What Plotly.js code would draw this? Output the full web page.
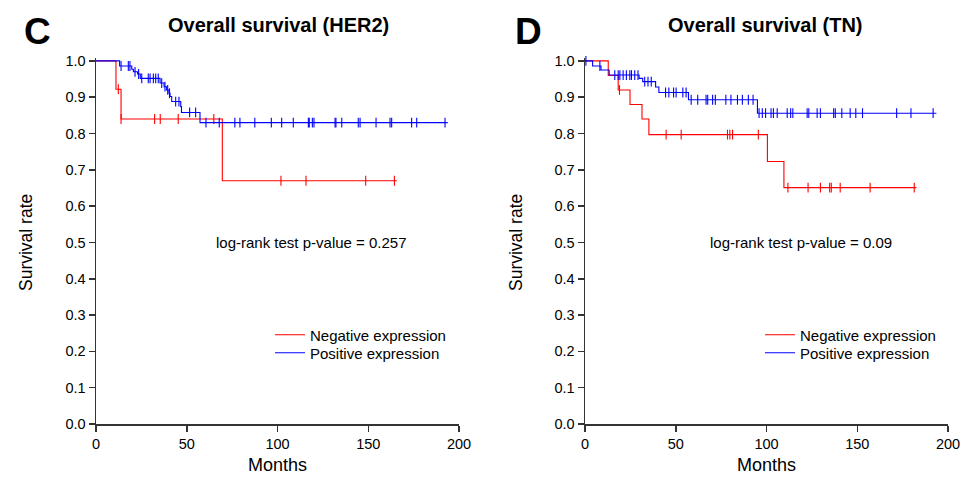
<!DOCTYPE html>
<html>
<head>
<meta charset="utf-8">
<script src="https://cdn.plot.ly/plotly-3.0.1.min.js"></script>
<style>html,body{margin:0;padding:0;background:#fff;}#chart{width:967px;height:477px;}</style>
</head>
<body>
<div id="chart"></div>
<script>
// ---------- Data ----------
const panelTitles = ["Overall survival (HER2)", "Overall survival (TN)"];
const panelLetters = ["C", "D"];
const seriesNames = ["Negative expression", "Positive expression"];
const pValueTexts = ["log-rank test p-value = 0.257", "log-rank test p-value = 0.09"];
const xTicks = [0, 50, 100, 150, 200];
const yTicks = [0, 0.1, 0.2, 0.3, 0.4, 0.5, 0.6, 0.7, 0.8, 0.9, 1.0];

// HER2 - negative expression
const her2NegTimes = [11, 13.8, 69.6];
const her2NegSurv = [0.922, 0.84, 0.67];
const her2NegLast = 165.7;
const her2NegCensor = [12.3, 13.8, 32.3, 35.4, 45.3, 64.9, 101.9, 115.7, 148.6, 164.4];

// HER2 - positive expression
const her2PosTimes = [13, 19.7, 20.6, 22.9, 24.4, 35.3, 37.5, 38.9, 40.2, 40.8, 41.7, 46.7, 47.1, 57.3];
const her2PosSurv = [0.986, 0.977, 0.970, 0.964, 0.952, 0.939, 0.929, 0.920, 0.911, 0.902, 0.888, 0.874, 0.858, 0.830];
const her2PosLast = 193.8;
const her2PosCensor = [13.8, 17.8, 18.7, 21.5, 23.5, 25.2, 28.8, 29.8, 31.6, 32.9, 34.3, 36.2, 38, 39.5, 40.5, 43.9, 45.7,
  51.6, 54.9, 60.6, 67.9, 76.5, 79.3, 87.5, 96.6, 102.3, 108.7, 117, 117.5, 119.2, 120.1, 131.7, 132.2, 135.4,
  144.5, 145.5, 154.3, 162, 162.9, 173.9, 176.7, 192.3];

// TN - negative expression
const tnNegTimes = [12.8, 18.3, 24.8, 31.4, 35.2, 100.5, 109.6];
const tnNegSurv = [0.96, 0.92, 0.88, 0.84, 0.797, 0.723, 0.651];
const tnNegLast = 182.6;
const tnNegCensor = [19, 44.7, 53, 78.5, 79.8, 81.3, 95.5, 111.8, 122.9, 129.7, 134.8, 135.7, 140.6, 157.1, 181.4];

// TN - positive expression
const tnPosTimes = [4.2, 8.8, 13.3, 29.8, 31.8, 38.9, 40.7, 57, 95];
const tnPosSurv = [0.986, 0.975, 0.961, 0.952, 0.943, 0.928, 0.913, 0.893, 0.856];
const tnPosLast = 193.6;
const tnPosCensor = [0.5, 8.2, 16.4, 18.3, 19.2, 21.0, 22.8, 24.7, 25.6, 27.4, 29.2, 32.9, 34.7, 36.5, 44.4, 46.2, 48.8,
  50.2, 53.9, 55.7, 58.5, 62.1, 66.7, 67.6, 70.3, 71.8, 77.6, 80.4, 84, 86.7, 90, 92.6, 95.9, 97.7, 99.5, 102.5,
  103.8, 105.9, 111.4, 113.3, 114.5, 122.4, 123.3, 127.9, 129.7, 137, 137.9, 141.5, 146.1, 149.2, 152.9, 171.7,
  179.6, 191.8];

// ---------- Helpers ----------
function stepXY(times, surv, last) {
  return { x: [0].concat(times, [last]), y: [1].concat(surv, [surv[surv.length - 1]]) };
}
function survAt(times, surv, t) {
  let s = 1;
  for (let i = 0; i < times.length; i++) if (t >= times[i]) s = surv[i];
  return s;
}
const RED = "#ff0000", BLUE = "#0000ff";
function curveTraces(times, surv, last, censor, name, color, xa, ya, legend) {
  const st = stepXY(times, surv, last);
  return [
    { x: st.x, y: st.y, type: "scatter", mode: "lines", line: { shape: "hv", color: color, width: 1.1 },
      name: name, xaxis: xa, yaxis: ya, legend: legend, hoverinfo: "skip" },
    { x: censor, y: censor.map(t => survAt(times, surv, t)), type: "scatter", mode: "markers",
      marker: { symbol: "line-ns", size: 7, line: { color: color, width: 1.1 } },
      showlegend: false, xaxis: xa, yaxis: ya, hoverinfo: "skip", cliponaxis: false }
  ];
}

const data = []
  .concat(curveTraces(her2NegTimes, her2NegSurv, her2NegLast, her2NegCensor, seriesNames[0], RED, "x", "y", "legend"))
  .concat(curveTraces(her2PosTimes, her2PosSurv, her2PosLast, her2PosCensor, seriesNames[1], BLUE, "x", "y", "legend2"))
  .concat(curveTraces(tnNegTimes, tnNegSurv, tnNegLast, tnNegCensor, seriesNames[0], RED, "x2", "y2", "legend3"))
  .concat(curveTraces(tnPosTimes, tnPosSurv, tnPosLast, tnPosCensor, seriesNames[1], BLUE, "x2", "y2", "legend4"));

// ---------- Layout ----------
const W = 967, H = 477, ML = 96, MR = 19, MT = 58, MB = 53;
const PW = W - ML - MR, PH = H - MT - MB;
const px2x = p => (p - ML) / PW;
const py2y = p => (H - MB - p) / PH;
const FONT = "Liberation Sans, Arial, sans-serif";

function xaxisDef(domain, anchor) {
  return { domain: domain, anchor: anchor, range: [0, 200], tickvals: xTicks, ticktext: xTicks.map(String),
    showgrid: false, zeroline: false, showline: true, linecolor: "#333", linewidth: 1.5,
    ticks: "outside", ticklen: 6, tickwidth: 1.5, tickcolor: "#333",
    tickfont: { family: FONT, size: 14.5, color: "#000" }, fixedrange: true };
}
function yaxisDef(anchor) {
  return { domain: [0, 1], anchor: anchor, range: [0, 1.008], tickvals: yTicks, ticktext: yTicks.map(v => v.toFixed(1)),
    showgrid: false, zeroline: false, showline: true, linecolor: "#333", linewidth: 1.5,
    ticks: "outside", ticklen: 6, tickwidth: 1.5, tickcolor: "#333",
    tickfont: { family: FONT, size: 14.5, color: "#000" }, fixedrange: true };
}

const leftCenter = (96 + 459) / 2, rightCenter = (585 + 948) / 2;
const annotations = [
  { text: panelTitles[0], xref: "paper", yref: "paper", x: px2x(278), y: py2y(25), showarrow: false,
    font: { family: FONT, size: 20, color: "#000", weight: "bold" }, xanchor: "center", yanchor: "middle" },
  { text: panelTitles[1], xref: "paper", yref: "paper", x: px2x(765), y: py2y(25), showarrow: false,
    font: { family: FONT, size: 20, color: "#000", weight: "bold" }, xanchor: "center", yanchor: "middle" },
  { text: panelLetters[0], xref: "paper", yref: "paper", x: px2x(37), y: py2y(31), showarrow: false,
    font: { family: FONT, size: 37, color: "#000", weight: "bold" }, xanchor: "center", yanchor: "middle" },
  { text: panelLetters[1], xref: "paper", yref: "paper", x: px2x(528), y: py2y(31), showarrow: false,
    font: { family: FONT, size: 37, color: "#000", weight: "bold" }, xanchor: "center", yanchor: "middle" },
  { text: "Survival rate", xref: "paper", yref: "paper", x: px2x(26), y: py2y(243), textangle: -90, showarrow: false,
    font: { family: FONT, size: 17.5, color: "#000" }, xanchor: "center", yanchor: "middle" },
  { text: "Survival rate", xref: "paper", yref: "paper", x: px2x(516), y: py2y(243), textangle: -90, showarrow: false,
    font: { family: FONT, size: 17.5, color: "#000" }, xanchor: "center", yanchor: "middle" },
  { text: "Months", xref: "paper", yref: "paper", x: px2x(leftCenter), y: py2y(465), showarrow: false,
    font: { family: FONT, size: 18, color: "#000" }, xanchor: "center", yanchor: "middle" },
  { text: "Months", xref: "paper", yref: "paper", x: px2x(rightCenter), y: py2y(465), showarrow: false,
    font: { family: FONT, size: 18, color: "#000" }, xanchor: "center", yanchor: "middle" },
  { text: pValueTexts[0], xref: "x", yref: "y", x: 65.2, y: 0.5, showarrow: false,
    font: { family: FONT, size: 15, color: "#000" }, xanchor: "left", yanchor: "middle" },
  { text: pValueTexts[1], xref: "x2", yref: "y2", x: 67.6, y: 0.5, showarrow: false,
    font: { family: FONT, size: 15, color: "#000" }, xanchor: "left", yanchor: "middle" }
];

function legendDef(leftPx, rowPy) {
  return { x: px2x(leftPx), y: py2y(rowPy), xref: "paper", yref: "paper", xanchor: "left", yanchor: "middle",
    bgcolor: "rgba(0,0,0,0)", borderwidth: 0, font: { family: FONT, size: 15, color: "#000" },
    itemwidth: 30, tracegroupgap: 0 };
}

const layout = {
  width: W, height: H,
  margin: { l: ML, r: MR, t: MT, b: MB, pad: 0 },
  paper_bgcolor: "#fff", plot_bgcolor: "#fff",
  showlegend: true,
  xaxis: xaxisDef([0, px2x(459)], "y"),
  yaxis: yaxisDef("x"),
  xaxis2: xaxisDef([px2x(585), 1], "y2"),
  yaxis2: yaxisDef("x2"),
  legend: legendDef(270, 335),
  legend2: legendDef(270, 353),
  legend3: legendDef(760, 335),
  legend4: legendDef(760, 353),
  annotations: annotations
};

Plotly.newPlot("chart", data, layout, { staticPlot: true, displayModeBar: false });
</script>
</body>
</html>
